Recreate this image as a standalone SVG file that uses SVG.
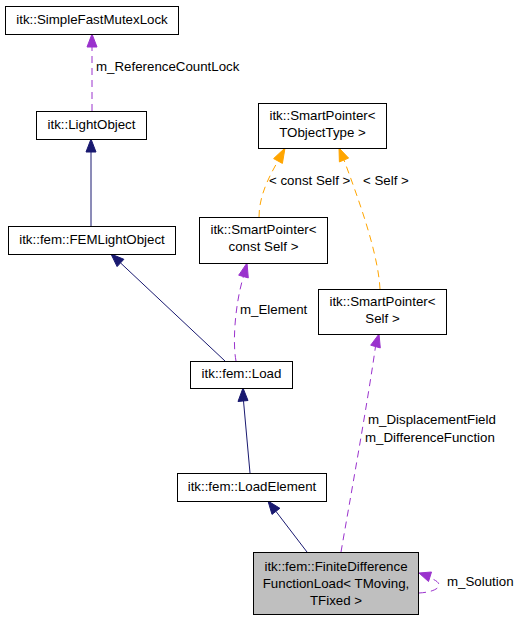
<svg xmlns="http://www.w3.org/2000/svg" width="517" height="621" viewBox="0 0 517 621">
<style>
.box{fill:#ffffff;stroke:#000000;stroke-width:1}
.cur{fill:#bfbfbf;stroke:#000000;stroke-width:1}
text{font-family:"Liberation Sans",Arial,sans-serif;font-size:13.3px;fill:#000000}
.c{text-anchor:middle}
.nav{stroke:#191970;fill:none;stroke-width:1}
.navh{fill:#191970;stroke:#191970}
.pur{stroke:#9a32cd;fill:none;stroke-width:1;stroke-dasharray:7,5}
.purh{fill:#9a32cd;stroke:#9a32cd}
.org{stroke:#ffa500;fill:none;stroke-width:1;stroke-dasharray:7,5}
.orgh{fill:#ffa500;stroke:#ffa500}
</style>
<rect width="517" height="621" fill="#ffffff"/>
<g id="connectors">
<path class="pur" d="M92,111 L92,47"/>
<polygon class="purh" points="92,34 87,47 97,47"/>
<text x="96" y="71">m_ReferenceCountLock</text>
<path class="nav" d="M91,226 L91,152"/>
<polygon class="navh" points="91,139 86,152 96,152"/>
<path class="org" d="M259,217 C259,195 270,175 278,161"/>
<polygon class="orgh" points="285,148 273.6,158.6 282.4,163.4"/>
<text x="269" y="185">&lt; const Self &gt;</text>
<path class="org" d="M380,289 C378,250 355,190 344,160"/>
<polygon class="orgh" points="339,148 348.6,158.1 339.4,161.9"/>
<text x="363" y="185">&lt; Self &gt;</text>
<path class="nav" d="M225,361 L120.5,262.9"/>
<polygon class="navh" points="111,254 123.9,259.3 117.1,266.6"/>
<path class="pur" d="M236,361 C232,340 236,300 243.5,276.5"/>
<polygon class="purh" points="247,263 238.7,275.2 248.3,277.9"/>
<text x="240" y="314">m_Element</text>
<path class="nav" d="M250,473 L243.5,401"/>
<polygon class="navh" points="243,388 238,401.5 248,400.5"/>
<path class="nav" d="M307,552 L275.9,511.3"/>
<polygon class="navh" points="268,501 279.9,508.3 272,514.4"/>
<path class="pur" d="M341,552 C350,500 368,400 375.5,346.5"/>
<polygon class="purh" points="379,334 370.7,345.2 380.3,347.9"/>
<text x="368" y="424">m_DisplacementField</text>
<text x="365" y="442">m_DifferenceFunction</text>
<path class="pur" d="M419,593 C438,592 447,584 430,578"/>
<polygon class="purh" points="419,573 431.5,572 428.5,581.5"/>
<text x="447" y="586">m_Solution</text>
</g>
<g id="SimpleFastMutexLock">
<rect class="box" x="5.5" y="6.5" width="173" height="28"/>
<text class="c" x="92" y="24">itk::SimpleFastMutexLock</text>
</g>
<g id="LightObject">
<rect class="box" x="36.5" y="111.5" width="110" height="28"/>
<text class="c" x="91.5" y="129">itk::LightObject</text>
</g>
<g id="FEMLightObject">
<rect class="box" x="8.5" y="226.5" width="167" height="28"/>
<text class="c" x="92" y="244">itk::fem::FEMLightObject</text>
</g>
<g id="SmartPointerTObjectType">
<rect class="box" x="258.5" y="103.5" width="128" height="45"/>
<text class="c" x="322.5" y="120">itk::SmartPointer&lt;</text>
<text class="c" x="322.5" y="137">TObjectType &gt;</text>
</g>
<g id="SmartPointerConstSelf">
<rect class="box" x="199.5" y="217.5" width="128" height="46"/>
<text class="c" x="263.5" y="234">itk::SmartPointer&lt;</text>
<text class="c" x="263.5" y="251">const Self &gt;</text>
</g>
<g id="SmartPointerSelf">
<rect class="box" x="318.5" y="289.5" width="128" height="45"/>
<text class="c" x="382.5" y="306">itk::SmartPointer&lt;</text>
<text class="c" x="382.5" y="323">Self &gt;</text>
</g>
<g id="Load">
<rect class="box" x="190.5" y="361.5" width="102" height="27"/>
<text class="c" x="241.5" y="378">itk::fem::Load</text>
</g>
<g id="LoadElement">
<rect class="box" x="177.5" y="473.5" width="149" height="28"/>
<text class="c" x="252" y="491">itk::fem::LoadElement</text>
</g>
<g id="FiniteDifferenceFunctionLoad">
<rect class="cur" x="253.5" y="552.5" width="165" height="62"/>
<text class="c" x="336" y="571">itk::fem::FiniteDifference</text>
<text class="c" x="336" y="588">FunctionLoad&lt; TMoving,</text>
<text class="c" x="336" y="605">TFixed &gt;</text>
</g>
</svg>
